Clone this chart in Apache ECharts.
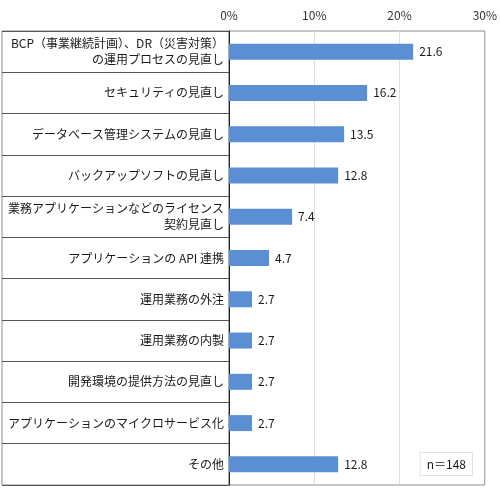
<!DOCTYPE html>
<html>
<head>
<meta charset="utf-8">
<script src="https://cdn.jsdelivr.net/npm/echarts@6/dist/echarts.min.js"></script>
<style>
  html, body { margin: 0; padding: 0; background: #fff; }
  #chart { width: 500px; height: 503px; }
</style>
</head>
<body>
<div id="chart"></div>
<script>
const categories = [
  'BCP（事業継続計画）、DR（災害対策）\nの運用プロセスの見直し',
  'セキュリティの見直し',
  'データベース管理システムの見直し',
  'バックアップソフトの見直し',
  '業務アプリケーションなどのライセンス\n契約見直し',
  'アプリケーションの API 連携',
  '運用業務の外注',
  '運用業務の内製',
  '開発環境の提供方法の見直し',
  'アプリケーションのマイクロサービス化',
  'その他'
]
const values = [21.6, 16.2, 13.5, 12.8, 7.4, 4.7, 2.7, 2.7, 2.7, 2.7, 12.8]
const sampleNote = 'n＝148'

const font = '"Noto Sans CJK JP", "Noto Sans", sans-serif'
const chart = echarts.init(document.getElementById('chart'))

const opt = {
  animation: false,
  grid: [
    // plot area
    { left: 229, right: 12, top: 31, bottom: 18, show: true, borderColor: '#8c8c8c', borderWidth: 1 },
    // label column
    { left: 2, right: 271, top: 31, bottom: 18, show: true, borderColor: '#8c8c8c', borderWidth: 1 }
  ],
  xAxis: [
    {
      gridIndex: 0,
      type: 'value',
      position: 'top',
      min: 0,
      max: 30,
      interval: 10,
      axisLine: { show: false },
      axisTick: { show: false },
      axisLabel: { formatter: '{value}%', color: '#333', fontSize: 12, fontFamily: font, margin: 10 },
      splitLine: { show: true, lineStyle: { color: '#dedede', width: 1 } }
    },
    { gridIndex: 1, type: 'value', show: false }
  ],
  yAxis: [
    {
      gridIndex: 0,
      type: 'category',
      inverse: true,
      data: categories,
      axisLine: { show: true, lineStyle: { color: '#222', width: 1 } },
      axisTick: { show: false },
      axisLabel: {
        color: '#1a1a1a',
        fontSize: 12,
        fontFamily: font,
        margin: 5,
        align: 'right',
        lineHeight: 16
      }
    },
    {
      gridIndex: 1,
      type: 'category',
      inverse: true,
      data: categories,
      axisLine: { show: false },
      axisTick: { show: false },
      axisLabel: { show: false },
      splitLine: { show: true, lineStyle: { color: '#555', width: 1 } }
    }
  ],
  series: [
    {
      type: 'bar',
      xAxisIndex: 0,
      yAxisIndex: 0,
      data: values,
      barWidth: 16,
      itemStyle: { color: '#5a8fd3' },
      label: {
        show: true,
        position: 'right',
        distance: 6,
        color: '#1a1a1a',
        fontSize: 12,
        fontFamily: font,
        formatter: p => p.value.toFixed(1)
      }
    }
  ],
  graphic: [
    {
      type: 'text',
      right: 27,
      bottom: 27,
      style: {
        text: sampleNote,
        fontSize: 12,
        fontFamily: font,
        fill: '#1a1a1a',
        backgroundColor: '#fff',
        borderColor: '#e2e2e2',
        borderWidth: 1,
        padding: [5, 6, 5, 6]
      }
    }
  ]
}

chart.setOption(opt)
</script>
</body>
</html>
